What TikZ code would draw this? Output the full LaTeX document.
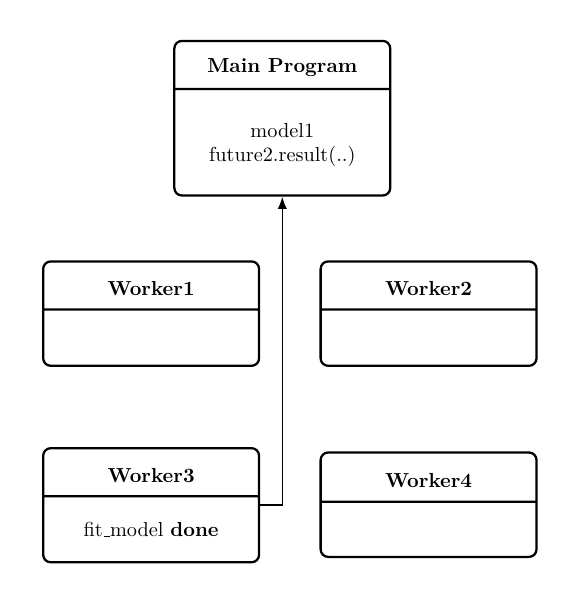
\documentclass[tikz,border=0pt]{standalone}
\usepackage{amsmath}
\usepackage{tikz}
\usetikzlibrary{shapes,arrows.meta}

% fixed-size parts of a split box
\newcommand{\boxhead}[2][8.5mm]{\parbox[c][#1][c]{4cm}{\vspace{3.2pt}\centering\textbf{#2}}}
\newcommand{\boxbody}[2][10mm]{\parbox[c][#1][c]{4cm}{\centering #2}}
\newcommand{\uscore}{\leavevmode\kern.06em\vbox{\hrule width.3em}}

\begin{document}
\begin{tikzpicture}[auto, thick,
    font=\fontsize{10.7}{12.8}\selectfont,
    proc/.style={rectangle split, rectangle split parts=2, draw, very thick,
      rounded corners, inner sep=0pt}]

  \useasboundingbox (0,0) rectangle (10.74,-11.19);

  \node[proc] (main) at (5.23,-2.19)
    {\boxhead{Main Program}\nodepart{two}\boxbody[19.3mm]{\vspace{3pt}model1\\future2.result(..)}};

  \node[proc] (worker1) at (2.80,-5.81)
    {\boxhead{Worker1}\nodepart{two}\boxbody{}};
  \node[proc] (worker2) at (7.94,-5.81)
    {\boxhead{Worker2}\nodepart{two}\boxbody{}};

  \node[proc] (worker3) at (2.80,-9.36)
    {\boxhead{Worker3}\nodepart{two}\boxbody[11.8mm]{fit\uscore model \textbf{done}}};
  \node[proc] (worker4) at (7.94,-9.35)
    {\boxhead[8.7mm]{Worker4}\nodepart{two}\boxbody[9.8mm]{}};

  \draw [-{Latex[length=6.5pt,width=5pt]}] (worker3.east) -| (main.south);
\end{tikzpicture}
\end{document}
